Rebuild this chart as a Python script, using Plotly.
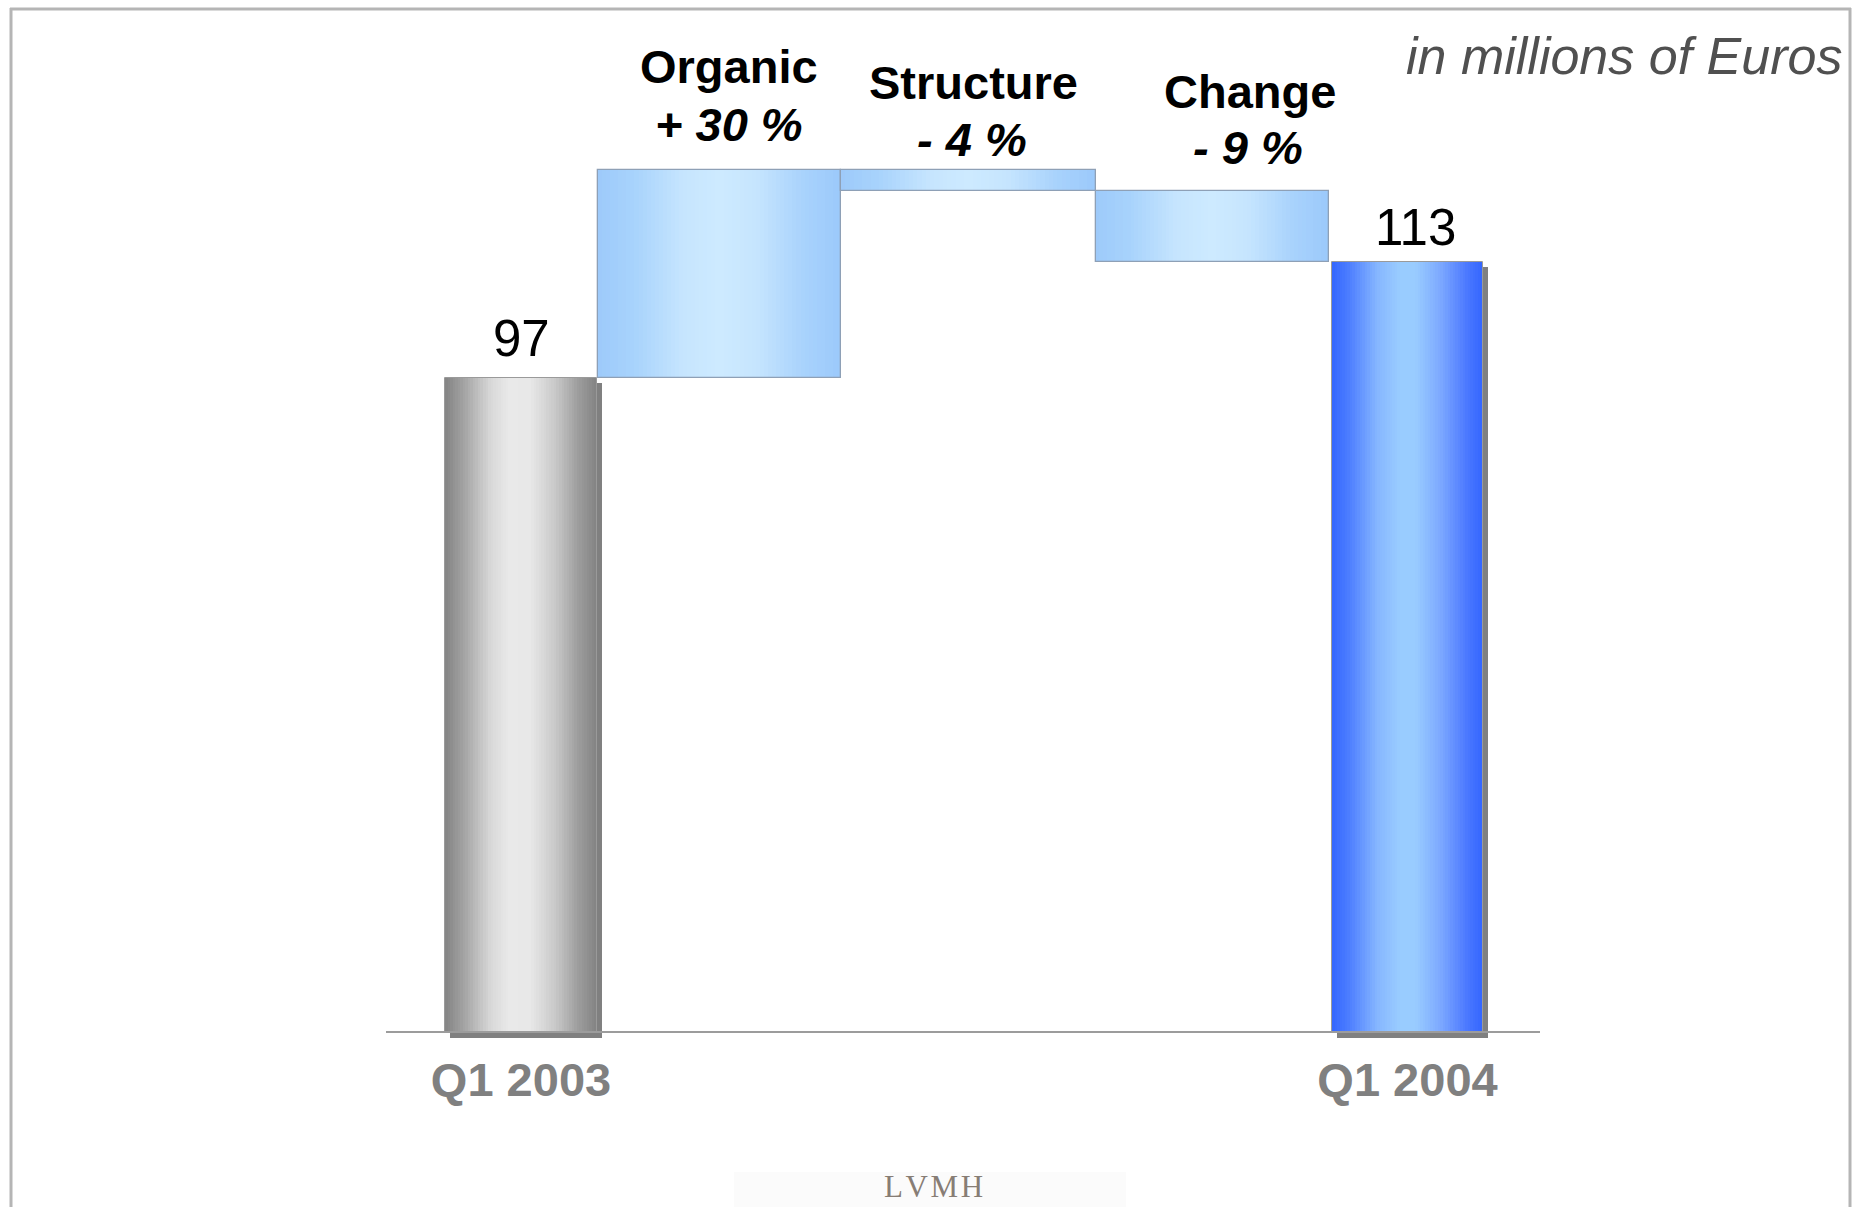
import plotly.graph_objects as go

# ---------------- data ----------------
CATEGORIES = ["Q1 2003", "Organic", "Structure", "Change", "Q1 2004"]
START_VALUE = 97
END_VALUE = 113
STEP_NAMES = ["Organic", "Structure", "Change"]
STEP_DELTAS = [28.6, -2.9, -9.7]
STEP_PCT_LABELS = ["+ 30 %", "- 4 %", "- 9 %"]
TOTAL_LABELS = ["Q1 2003", "Q1 2004"]
UNIT_NOTE = "in millions of Euros"
LOGO_TEXT = "L\u200aV\u200aM\u200aH"

# ---------------- layout constants ----------------
W, H = 1868, 1207
PLOT_BOTTOM_PX = 1032
X_RANGE = [-2.35082, 6.07784]
Y_RANGE = [6.76, 149.1]
X_CENTERS = [0.0, 0.8957, 2.0181, 3.1190, 4.0]
X_WIDTHS = [0.6858, 1.0964, 1.1483, 1.0536, 0.6813]
PX_X = W / (X_RANGE[1] - X_RANGE[0])
PX_Y = PLOT_BOTTOM_PX / (Y_RANGE[1] - Y_RANGE[0])

FONT = "Liberation Sans, Arial, sans-serif"
SERIF = "Liberation Serif, Times New Roman, serif"

GRAY_STOPS = [(0, "#848484"), (0.12, "#a2a2a2"), (0.3, "#d8d8d8"), (0.42, "#e9e9e9"),
              (0.56, "#e8e8e8"), (0.72, "#cacaca"), (0.88, "#9c9c9c"), (1, "#838383")]
STEP_STOPS = [(0, "#9dcafa"), (0.15, "#a8d3fc"), (0.35, "#c6e5fe"), (0.5, "#cdeaff"),
              (0.65, "#c6e5fe"), (0.85, "#a8d2fc"), (1, "#9bc9fb")]
BLUE_STOPS = [(0, "#3366ff"), (0.12, "#4f80ff"), (0.3, "#86b6ff"), (0.45, "#99ccff"),
              (0.55, "#99ccff"), (0.72, "#7ca8ff"), (0.9, "#4a77ff"), (1, "#3366ff")]
SHADOW = "#808080"
SHADOW_PX = 5


def hex2rgb(h):
    h = h.lstrip("#")
    return tuple(int(h[i:i + 2], 16) for i in (0, 2, 4))


def grad(stops, t):
    for (t0, c0), (t1, c1) in zip(stops[:-1], stops[1:]):
        if t0 <= t <= t1:
            f = 0 if t1 == t0 else (t - t0) / (t1 - t0)
            a, b = hex2rgb(c0), hex2rgb(c1)
            return "rgb(%d,%d,%d)" % tuple(round(a[i] + (b[i] - a[i]) * f) for i in range(3))
    return stops[-1][1]


def paper_y(py):
    return (PLOT_BOTTOM_PX - py) / PLOT_BOTTOM_PX


# ---------------- waterfall geometry from data ----------------
bases, heights = [], []
bases.append(0)
heights.append(START_VALUE)
running = START_VALUE
for d in STEP_DELTAS:
    new = running + d
    bases.append(min(running, new))
    heights.append(abs(d))
    running = new
bases.append(0)
heights.append(END_VALUE)
styles = [GRAY_STOPS, STEP_STOPS, STEP_STOPS, STEP_STOPS, BLUE_STOPS]

fig = go.Figure()

# shadows behind the two totals
sh_dx = SHADOW_PX / PX_X
sh_dy = SHADOW_PX / PX_Y
for i in (0, 4):
    fig.add_trace(go.Bar(x=[X_CENTERS[i] + sh_dx], y=[heights[i] - sh_dy], base=[bases[i]],
                         width=[X_WIDTHS[i]], marker=dict(color=SHADOW, line=dict(width=0)),
                         hoverinfo="skip", showlegend=False))

# gradient fills built from thin slices
N = 60
for i in range(5):
    left = X_CENTERS[i] - X_WIDTHS[i] / 2
    right = X_CENTERS[i] + X_WIDTHS[i] / 2
    dw = (right - left) / N
    xs, ws, cs = [], [], []
    for k in range(N):
        a = left + k * dw
        b = min(right, left + (k + 1.8) * dw)
        xs.append((a + b) / 2)
        ws.append(b - a)
        cs.append(grad(styles[i], (k + 0.5) / N))
    fig.add_trace(go.Bar(x=xs, y=[heights[i]] * N, base=[bases[i]] * N, width=ws,
                         marker=dict(color=cs, line=dict(width=0)),
                         hoverinfo="skip", showlegend=False))

# outlines
fig.add_trace(go.Bar(x=X_CENTERS[1:4], y=heights[1:4], base=bases[1:4], width=X_WIDTHS[1:4],
                     marker=dict(color="rgba(0,0,0,0)", line=dict(color="#8ea0b6", width=1.3)),
                     hoverinfo="skip", showlegend=False))
fig.add_trace(go.Bar(x=[X_CENTERS[0], X_CENTERS[4]], y=[heights[0], heights[4]], base=[0, 0],
                     width=[X_WIDTHS[0], X_WIDTHS[4]],
                     marker=dict(color="rgba(0,0,0,0)", line=dict(color="#9a9a9a", width=1)),
                     hoverinfo="skip", showlegend=False))

shapes = []
# shadow strips below baseline
for i in (0, 4):
    shapes.append(dict(type="rect", xref="x", yref="paper",
                       x0=X_CENTERS[i] - X_WIDTHS[i] / 2 + sh_dx, x1=X_CENTERS[i] + X_WIDTHS[i] / 2 + sh_dx,
                       y0=paper_y(PLOT_BOTTOM_PX + 6), y1=0,
                       fillcolor=SHADOW, line=dict(width=0), layer="above"))
# baseline
shapes.append(dict(type="line", xref="x", yref="paper",
                   x0=(386 / PX_X) + X_RANGE[0], x1=(1540 / PX_X) + X_RANGE[0], y0=0, y1=0,
                   line=dict(color="#9c9c9c", width=2), layer="above"))
# frame
frame_c = "#b5b5b5"
shapes.append(dict(type="line", xref="paper", yref="paper", x0=11 / W, x1=11 / W,
                   y0=paper_y(8), y1=paper_y(H + 5), line=dict(color=frame_c, width=3)))
shapes.append(dict(type="line", xref="paper", yref="paper", x0=1850 / W, x1=1850 / W,
                   y0=paper_y(8), y1=paper_y(H + 5), line=dict(color=frame_c, width=3)))
shapes.append(dict(type="line", xref="paper", yref="paper", x0=10 / W, x1=1851 / W,
                   y0=paper_y(9), y1=paper_y(9), line=dict(color=frame_c, width=3)))
# faint logo band
shapes.append(dict(type="rect", xref="paper", yref="paper", x0=734 / W, x1=1126 / W,
                   y0=paper_y(H + 5), y1=paper_y(1172), fillcolor="#fbfbfb",
                   line=dict(width=0), layer="below"))

annotations = []
# value labels on totals
annotations.append(dict(x=X_CENTERS[0], y=START_VALUE, xref="x", yref="y", text=str(START_VALUE),
                        showarrow=False, xanchor="center", yanchor="bottom", yshift=9,
                        font=dict(family=FONT, size=51, color="#000000")))
annotations.append(dict(x=X_CENTERS[4], y=END_VALUE, xref="x", yref="y", text=str(END_VALUE),
                        showarrow=False, xanchor="center", yanchor="bottom", yshift=4, xshift=8,
                        font=dict(family=FONT, size=51, color="#000000")))

# step labels
NAME_BASELINES = [84, 100, 109]
PCT_BASELINES = [142, 157, 165]
NAME_XSHIFT = [9.5, 5, 38]
PCT_XSHIFT = [9, 4, 36]
FS = 47
for j in range(3):
    i = j + 1
    annotations.append(dict(x=X_CENTERS[i], xref="x", y=paper_y(NAME_BASELINES[j] + 1 + 0.212 * FS),
                            yref="paper", text="<b>%s</b>" % STEP_NAMES[j], showarrow=False,
                            xanchor="center", yanchor="bottom", xshift=NAME_XSHIFT[j],
                            font=dict(family=FONT, size=FS, color="#000000")))
    annotations.append(dict(x=X_CENTERS[i], xref="x", y=paper_y(PCT_BASELINES[j] + 1 + 0.212 * FS),
                            yref="paper", text="<b><i>%s</i></b>" % STEP_PCT_LABELS[j], showarrow=False,
                            xanchor="center", yanchor="bottom", xshift=PCT_XSHIFT[j],
                            font=dict(family=FONT, size=FS, color="#000000")))

# unit note
annotations.append(dict(x=1844 / W, xref="paper", y=paper_y(75 + 1 + 0.212 * 52), yref="paper",
                        text="<i>%s</i>" % UNIT_NOTE, showarrow=False, xanchor="right", yanchor="bottom",
                        font=dict(family=FONT, size=52, color="#505050")))
# logo
annotations.append(dict(x=933 / W, xref="paper", y=paper_y(1198 + 1 + 0.216 * 31), yref="paper",
                        text=LOGO_TEXT, showarrow=False, xanchor="center", yanchor="bottom",
                        font=dict(family=SERIF, size=31, color="#877d75")))

fig.update_layout(
    width=W, height=H,
    margin=dict(l=0, r=0, t=0, b=H - PLOT_BOTTOM_PX, pad=0, autoexpand=False),
    paper_bgcolor="#ffffff", plot_bgcolor="rgba(0,0,0,0)",
    barmode="overlay", bargap=0, showlegend=False, hovermode=False,
    xaxis=dict(range=X_RANGE, showgrid=False, zeroline=False, showline=False, ticks="",
               tickvals=[X_CENTERS[0], X_CENTERS[4]], ticktext=TOTAL_LABELS,
               tickfont=dict(family=FONT, size=47, color="#808080", weight="bold"),
               ticklabelstandoff=16, fixedrange=True),
    yaxis=dict(range=Y_RANGE, visible=False, fixedrange=True),
    shapes=shapes, annotations=annotations,
)

fig.write_html("out.html", config={"displayModeBar": False})
